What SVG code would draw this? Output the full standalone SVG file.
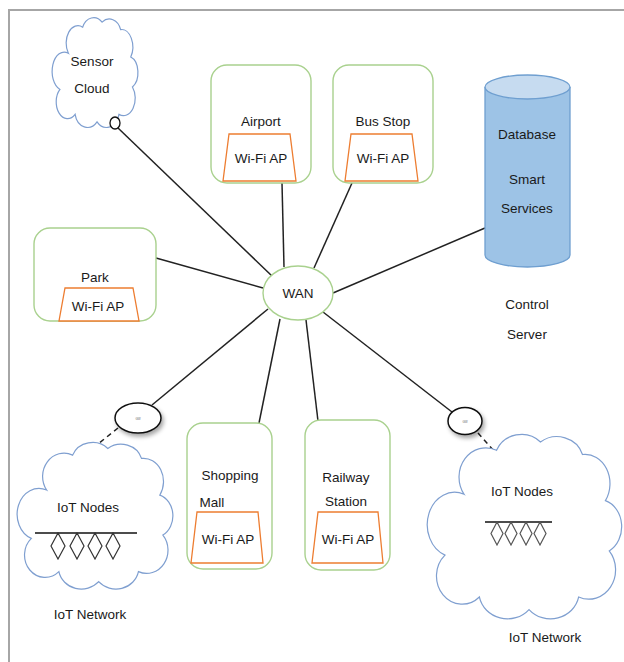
<svg xmlns="http://www.w3.org/2000/svg" xmlns:xlink="http://www.w3.org/1999/xlink" width="624" height="662" viewBox="0 0 624 662">
<style>
text{font-family:"Liberation Sans","Open Sans",sans-serif;font-size:13.5px;fill:#1a1a1a;text-anchor:middle}
.box{fill:#fff;stroke:#a9d18e;stroke-width:1.4}
.ap{fill:#fff;stroke:#ed7d31;stroke-width:1.3}
.cloud{fill:#fff;stroke:#7f9fd0}
.conn{stroke:#222;stroke-width:1.5;fill:none}
.dash{stroke:#222;stroke-width:1.5;stroke-dasharray:5 4;fill:none}
.gw{fill:#fff;stroke:#111;stroke-width:1.5}
</style>
<defs>
<path id="cloudShape" vector-effect="non-scaling-stroke" stroke-width="1.2" d="M18,35 A14,14 0 0 1 35,14 A14,12 0 0 1 58,10 A14,12 0 0 1 80,16 A13,14 0 0 1 92,38 A12,13 0 0 1 94,62 A14,14 0 0 1 78,84 A15,13 0 0 1 52,90 A15,13 0 0 1 26,84 A13,13 0 0 1 8,64 A12,13 0 0 1 18,35 Z"/>
<filter id="sh" x="-30%" y="-30%" width="170%" height="180%">
<feDropShadow dx="2" dy="3" stdDeviation="2" flood-color="#000" flood-opacity="0.35"/>
</filter>
</defs>
<rect x="0" y="0" width="624" height="662" fill="#fff"/>
<path d="M9,662 V10 H624" fill="none" stroke="#a6a6a6" stroke-width="2"/>

<g id="connectors">
<line class="conn" x1="118" y1="128" x2="272" y2="276"/>
<line class="conn" x1="284" y1="267" x2="282" y2="183"/>
<line class="conn" x1="314" y1="268" x2="352" y2="183"/>
<line class="conn" x1="156" y1="258" x2="263" y2="288"/>
<line class="conn" x1="333" y1="293" x2="485" y2="228"/>
<line class="conn" x1="268" y1="309" x2="152" y2="405"/>
<line class="conn" x1="280" y1="319" x2="259" y2="423"/>
<line class="conn" x1="306" y1="320" x2="318" y2="421"/>
<line class="conn" x1="323" y1="312" x2="452" y2="412"/>
<line class="dash" x1="118" y1="428" x2="88" y2="452"/>
<line class="dash" x1="478" y1="433" x2="495" y2="452"/>
</g>

<g id="sensor-cloud">
<use xlink:href="#cloudShape" class="cloud" transform="translate(53.2,9.7) scale(0.843,1.246)"/>
<ellipse cx="115" cy="123" rx="5" ry="6" fill="#fff" stroke="#111" stroke-width="1.3"/>
<text x="92" y="66">Sensor</text>
<text x="92" y="93">Cloud</text>
</g>

<g id="airport">
<rect class="box" x="211" y="65" width="100" height="118" rx="16"/>
<text x="261" y="126">Airport</text>
<path class="ap" d="M229,134 H290 L296,181 H223 Z"/>
<text x="261" y="163">Wi-Fi AP</text>
</g>

<g id="bus-stop">
<rect class="box" x="333" y="65" width="100" height="118" rx="16"/>
<text x="383" y="126">Bus Stop</text>
<path class="ap" d="M351,134 H412 L418,181 H345 Z"/>
<text x="383" y="163">Wi-Fi AP</text>
</g>

<g id="control-server">
<path d="M485,87 V255 A42.5,12 0 0 0 570,255 V87" fill="#9dc3e6" stroke="#6f9fd0" stroke-width="1.3"/>
<ellipse cx="527.5" cy="87" rx="42.5" ry="12" fill="#c6dbf0" stroke="#6f9fd0" stroke-width="1.3"/>
<text x="527" y="139">Database</text>
<text x="527" y="184">Smart</text>
<text x="527" y="213">Services</text>
<text x="527" y="309">Control</text>
<text x="527" y="339">Server</text>
</g>

<g id="park">
<rect class="box" x="34" y="228" width="122" height="93" rx="16"/>
<text x="95" y="282">Park</text>
<path class="ap" d="M65,288 H133 L139,321 H59 Z"/>
<text x="98" y="311">Wi-Fi AP</text>
</g>

<g id="wan">
<ellipse cx="298" cy="293" rx="35" ry="27" fill="#fff" stroke="#a9d18e" stroke-width="1.4"/>
<text x="298" y="298">WAN</text>
</g>

<g id="gateway-left">
<ellipse class="gw" cx="138" cy="418" rx="23" ry="15" filter="url(#sh)"/>
<text x="138" y="420" style="font-size:3px;fill:#666">GW</text>
</g>

<g id="gateway-right">
<ellipse class="gw" cx="465" cy="421" rx="17" ry="13.5" filter="url(#sh)"/>
<text x="465" y="423" style="font-size:3px;fill:#666">GW</text>
</g>

<g id="iot-left">
<use xlink:href="#cloudShape" class="cloud" transform="translate(19.1,431.8) scale(1.53,1.665)"/>
<text x="88" y="512">IoT Nodes</text>
<line x1="35" y1="533" x2="137" y2="533" stroke="#111" stroke-width="1.5"/>
<path d="M58,533 L65,546 L58,559 L51,546 Z M77,533 L84,546 L77,559 L70,546 Z M95,533 L102,546 L95,559 L88,546 Z M113,533 L120,546 L113,559 L106,546 Z" fill="none" stroke="#333" stroke-width="1.2"/>
<text x="90" y="619">IoT Network</text>
</g>

<g id="shopping-mall">
<rect class="box" x="187" y="423" width="85" height="146" rx="16"/>
<text x="230" y="480">Shopping</text>
<text x="212" y="507">Mall</text>
<path class="ap" d="M197,512 H258 L263,563 H191 Z"/>
<text x="228" y="544">Wi-Fi AP</text>
</g>

<g id="railway-station">
<rect class="box" x="305" y="420" width="85" height="150" rx="16"/>
<text x="346" y="482">Railway</text>
<text x="346" y="506">Station</text>
<path class="ap" d="M318,512 H378 L383,563 H312 Z"/>
<text x="348" y="544">Wi-Fi AP</text>
</g>

<g id="iot-right">
<use xlink:href="#cloudShape" class="cloud" transform="translate(429.7,421) scale(1.91,2.095)"/>
<text x="522" y="496">IoT Nodes</text>
<line x1="485" y1="522" x2="552" y2="522" stroke="#111" stroke-width="1.5"/>
<path d="M497,522 L503,533.5 L497,545 L491,533.5 Z M511,522 L517,533.5 L511,545 L505,533.5 Z M526,522 L532,533.5 L526,545 L520,533.5 Z M540,522 L546,533.5 L540,545 L534,533.5 Z" fill="none" stroke="#555" stroke-width="1.2"/>
<text x="545" y="642">IoT Network</text>
</g>
</svg>
